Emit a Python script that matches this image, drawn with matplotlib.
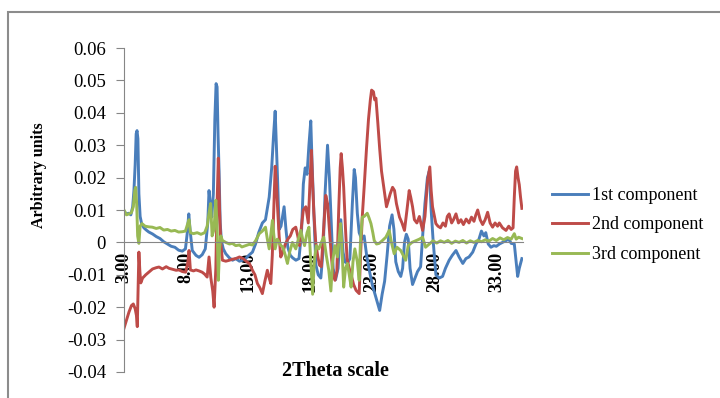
import numpy as np, matplotlib
matplotlib.use('Agg')
import matplotlib.pyplot as plt
from matplotlib.patches import Rectangle

plt.rcParams['font.family'] = ['Liberation Serif', 'DejaVu Serif']

# loadings of the three components vs 2theta
x1 = [3.0, 3.2, 3.4, 3.55, 3.7, 3.8, 3.9, 3.98, 4.05, 4.12,
      4.2, 4.3, 4.42, 4.6, 4.8, 5.0, 5.3, 5.6, 5.9, 6.2,
      6.5, 6.8, 7.1, 7.4, 7.7, 7.95, 8.1, 8.22, 8.32, 8.5,
      8.8, 9.05, 9.3, 9.55, 9.75, 9.85, 9.95, 10.07, 10.2, 10.32,
      10.42, 10.5, 10.58, 10.66, 10.75, 10.85, 11.0, 11.2, 11.5, 11.75,
      12.0, 12.3, 12.55, 12.8, 13.05, 13.35, 13.6, 13.85, 14.15, 14.4,
      14.7, 14.9, 15.05, 15.18, 15.28, 15.37, 15.5, 15.65, 15.9, 16.05,
      16.2, 16.4, 16.6, 16.85, 17.1, 17.3, 17.45, 17.6, 17.75, 17.9,
      18.05, 18.15, 18.3, 18.46, 18.65, 18.86, 19.05, 19.2, 19.4, 19.55,
      19.7, 19.85, 20.05, 20.25, 20.47, 20.65, 20.8, 21.0, 21.2, 21.4,
      21.55, 21.65, 21.8, 21.95, 22.15, 22.35, 22.55, 22.76, 23.0, 23.3,
      23.6, 23.8, 24.0, 24.2, 24.4, 24.6, 24.75, 24.9, 25.1, 25.3,
      25.45, 25.6, 25.75, 25.9, 26.05, 26.25, 26.45, 26.65, 26.9, 27.1,
      27.25, 27.45, 27.6, 27.75, 27.9, 28.13, 28.4, 28.67, 28.9, 29.2,
      29.45, 29.75, 30.0, 30.3, 30.55, 30.8, 31.1, 31.36, 31.6, 31.8,
      32.0, 32.15, 32.35, 32.57, 32.8, 33.0, 33.25, 33.5, 33.8, 34.0,
      34.2, 34.45, 34.6, 34.72, 34.85, 35.06]
y1 = [0.0095, 0.0088, 0.0090, 0.0085, 0.0110, 0.0160, 0.0240, 0.0335, 0.0345, 0.0320,
      0.0150, 0.0080, 0.0058, 0.0045, 0.0038, 0.0032, 0.0026, 0.0018, 0.0012, 0.0002,
      -0.0005, -0.0012, -0.0015, -0.0024, -0.0027, -0.0020, 0.0030, 0.0088, 0.0040, -0.0025,
      -0.0040, -0.0046, -0.0038, -0.0020, 0.0060, 0.0160, 0.0120, 0.0078, 0.0150, 0.0380,
      0.0490, 0.0480, 0.0330, 0.0220, 0.0060, 0.0005, -0.0020, -0.0035, -0.0048, -0.0055,
      -0.0050, -0.0058, -0.0055, -0.0050, -0.0040, -0.0030, -0.0005, 0.0030, 0.0060, 0.0070,
      0.0140, 0.0230, 0.0330, 0.0405, 0.0300, 0.0200, 0.0040, 0.0050, 0.0110, 0.0040,
      -0.0015, -0.0040, -0.0048, -0.0055, -0.0050, 0.0030, 0.0180, 0.0230, 0.0210, 0.0300,
      0.0375, 0.0250, 0.0090, -0.0070, -0.0100, -0.0110, -0.0020, 0.0150, 0.0300, 0.0200,
      0.0060, -0.0080, -0.0115, -0.0080, 0.0070, -0.0030, -0.0060, -0.0065, -0.0050, 0.0120,
      0.0225, 0.0200, 0.0090, 0.0030, 0.0010, 0.0020, -0.0040, -0.0085, -0.0130, -0.0170,
      -0.0210, -0.0160, -0.0120, -0.0040, 0.0050, 0.0085, 0.0040, -0.0060, -0.0090, -0.0105,
      -0.0080, 0.0000, 0.0025, 0.0010, -0.0080, -0.0130, -0.0110, -0.0090, -0.0075, 0.0040,
      0.0120, 0.0200, 0.0220, 0.0100, 0.0010, -0.0100, -0.0110, -0.0105, -0.0080, -0.0055,
      -0.0040, -0.0025, -0.0045, -0.0065, -0.0050, -0.0045, -0.0030, -0.0005, 0.0010, 0.0035,
      0.0020, 0.0030, -0.0005, -0.0015, -0.0010, -0.0012, -0.0005, 0.0000, 0.0006, 0.0010,
      -0.0003, -0.0005, -0.0060, -0.0105, -0.0080, -0.0050]

x2 = [3.0, 3.2, 3.4, 3.6, 3.75, 3.9, 4.0, 4.07, 4.15, 4.2,
      4.28, 4.35, 4.5, 4.75, 5.0, 5.3, 5.6, 5.82, 6.1, 6.4,
      6.63, 6.9, 7.2, 7.43, 7.7, 7.97, 8.15, 8.24, 8.35, 8.6,
      8.8, 9.05, 9.3, 9.5, 9.7, 9.85, 10.0, 10.15, 10.26, 10.4,
      10.5, 10.6, 10.7, 10.8, 10.93, 11.2, 11.5, 11.73, 12.0, 12.3,
      12.6, 12.9, 13.1, 13.35, 13.55, 13.75, 13.95, 14.15, 14.35, 14.55,
      14.7, 14.83, 14.95, 15.05, 15.18, 15.28, 15.37, 15.5, 15.63, 15.8,
      16.0, 16.2, 16.4, 16.6, 16.84, 17.0, 17.15, 17.3, 17.45, 17.65,
      17.85, 18.0, 18.1, 18.2, 18.3, 18.45, 18.6, 18.75, 18.9, 19.05,
      19.26, 19.4, 19.55, 19.7, 19.85, 20.0, 20.15, 20.3, 20.42, 20.5,
      20.6, 20.7, 20.85, 20.97, 21.15, 21.3, 21.5, 21.7, 21.95, 22.05,
      22.2, 22.35, 22.54, 22.7, 22.85, 22.95, 23.1, 23.2, 23.3, 23.45,
      23.6, 23.75, 23.97, 24.15, 24.3, 24.45, 24.64, 24.8, 24.95, 25.2,
      25.4, 25.6, 25.8, 25.98, 26.1, 26.25, 26.4, 26.6, 26.8, 27.06,
      27.25, 27.46, 27.64, 27.75, 27.86, 28.13, 28.3, 28.5, 28.7, 28.9,
      29.05, 29.2, 29.4, 29.55, 29.75, 29.95, 30.15, 30.35, 30.57, 30.8,
      31.0, 31.2, 31.35, 31.5, 31.7, 31.9, 32.1, 32.3, 32.5, 32.7,
      32.9, 33.1, 33.24, 33.5, 33.78, 34.0, 34.2, 34.35, 34.45, 34.55,
      34.64, 34.75, 34.85, 34.95, 35.06]
y2 = [-0.0265, -0.0240, -0.0215, -0.0195, -0.0190, -0.0205, -0.0225, -0.0260, -0.0120, -0.0030,
      -0.0090, -0.0125, -0.0110, -0.0100, -0.0092, -0.0082, -0.0078, -0.0076, -0.0082, -0.0075,
      -0.0080, -0.0083, -0.0086, -0.0085, -0.0090, -0.0092, -0.0060, -0.0025, -0.0085, -0.0088,
      -0.0085, -0.0088, -0.0092, -0.0098, -0.0107, -0.0045, -0.0110, -0.0150, -0.0200, -0.0080,
      0.0120, 0.0260, 0.0100, -0.0003, -0.0055, -0.0058, -0.0055, -0.0052, -0.0050, -0.0045,
      -0.0050, -0.0060, -0.0065, -0.0086, -0.0100, -0.0127, -0.0140, -0.0158, -0.0120, -0.0086,
      -0.0110, -0.0127, -0.0040, 0.0080, 0.0235, 0.0180, 0.0110, 0.0020, -0.0045, -0.0030,
      -0.0005, 0.0010, 0.0020, 0.0040, 0.0047, 0.0020, -0.0010, 0.0050, 0.0100, 0.0110,
      0.0060, 0.0200, 0.0284, 0.0180, 0.0090, 0.0000, -0.0040, -0.0070, -0.0075, 0.0020,
      0.0145, 0.0120, 0.0040, -0.0040, -0.0100, -0.0117, -0.0090, 0.0100, 0.0230, 0.0274,
      0.0230, 0.0170, 0.0040, -0.0050, -0.0080, -0.0100, -0.0130, -0.0148, -0.0158, -0.0050,
      0.0080, 0.0170, 0.0290, 0.0380, 0.0440, 0.0470, 0.0465, 0.0440, 0.0445, 0.0370,
      0.0290, 0.0220, 0.0160, 0.0110, 0.0130, 0.0150, 0.0170, 0.0160, 0.0120, 0.0078,
      0.0060, 0.0037, 0.0100, 0.0160, 0.0140, 0.0110, 0.0070, 0.0060, 0.0080, 0.0037,
      0.0080, 0.0190, 0.0233, 0.0160, 0.0110, 0.0058, 0.0050, 0.0045, 0.0060, 0.0050,
      0.0080, 0.0088, 0.0060, 0.0070, 0.0088, 0.0060, 0.0070, 0.0055, 0.0072, 0.0060,
      0.0078, 0.0065, 0.0085, 0.0100, 0.0070, 0.0055, 0.0070, 0.0093, 0.0060, 0.0047,
      0.0060, 0.0050, 0.0060, 0.0045, 0.0037, 0.0050, 0.0040, 0.0045, 0.0140, 0.0220,
      0.0233, 0.0200, 0.0178, 0.0140, 0.0105]

x3 = [3.0, 3.2, 3.4, 3.6, 3.75, 3.87, 3.94, 4.02, 4.1, 4.2,
      4.3, 4.45, 4.7, 5.0, 5.28, 5.6, 5.9, 6.2, 6.5, 6.8,
      7.1, 7.4, 7.7, 7.95, 8.15, 8.24, 8.35, 8.6, 8.9, 9.2,
      9.5, 9.7, 9.85, 9.98, 10.1, 10.25, 10.4, 10.5, 10.6, 10.7,
      10.8, 10.93, 11.2, 11.5, 11.73, 12.0, 12.3, 12.5, 12.8, 13.1,
      13.35, 13.6, 13.9, 14.15, 14.4, 14.55, 14.7, 14.85, 14.96, 15.08,
      15.18, 15.35, 15.5, 15.65, 15.8, 16.0, 16.17, 16.35, 16.57, 16.7,
      16.84, 17.05, 17.25, 17.4, 17.55, 17.75, 17.9, 18.05, 18.2, 18.35,
      18.5, 18.7, 18.9, 19.1, 19.3, 19.5, 19.67, 19.8, 20.0, 20.2,
      20.35, 20.46, 20.6, 20.7, 20.85, 21.0, 21.15, 21.3, 21.45, 21.6,
      21.8, 21.95, 22.05, 22.2, 22.35, 22.6, 22.75, 22.9, 23.05, 23.16,
      23.35, 23.56, 23.8, 24.1, 24.37, 24.55, 24.77, 25.0, 25.3, 25.5,
      25.7, 25.9, 26.2, 26.5, 26.8, 27.06, 27.3, 27.6, 27.9, 28.2,
      28.5, 28.8, 29.1, 29.4, 29.7, 30.0, 30.3, 30.6, 30.9, 31.2,
      31.5, 31.8, 32.1, 32.4, 32.7, 33.0, 33.3, 33.6, 33.9, 34.2,
      34.45, 34.6, 34.8, 35.06]
y3 = [0.0100, 0.0085, 0.0088, 0.0092, 0.0110, 0.0160, 0.0170, 0.0120, 0.0020, -0.0003,
      0.0050, 0.0058, 0.0050, 0.0048, 0.0047, 0.0043, 0.0046, 0.0038, 0.0040, 0.0035,
      0.0037, 0.0032, 0.0033, 0.0035, 0.0060, 0.0070, 0.0030, 0.0027, 0.0030, 0.0025,
      0.0030, 0.0050, 0.0090, 0.0120, 0.0020, 0.0040, 0.0130, 0.0050, -0.0117, -0.0020,
      0.0020, 0.0006, 0.0000, -0.0005, -0.0003, -0.0010, -0.0008, -0.0014, -0.0010, -0.0006,
      -0.0008, 0.0005, 0.0027, 0.0035, 0.0047, 0.0010, -0.0020, 0.0030, 0.0068, 0.0020,
      -0.0020, 0.0010, 0.0000, -0.0010, -0.0014, -0.0040, -0.0065, -0.0030, 0.0000, -0.0010,
      -0.0020, 0.0010, 0.0037, 0.0010, -0.0010, 0.0030, 0.0047, -0.0060, -0.0160, -0.0050,
      -0.0010, -0.0020, 0.0000, 0.0016, -0.0040, -0.0086, -0.0150, -0.0060, -0.0010, -0.0045,
      0.0020, 0.0058, -0.0050, -0.0138, -0.0080, -0.0065, -0.0100, -0.0138, -0.0060, -0.0020,
      -0.0060, -0.0117, 0.0000, 0.0078, 0.0080, 0.0090, 0.0075, 0.0058, 0.0030, 0.0006,
      -0.0005, -0.0003, 0.0005, 0.0016, 0.0037, 0.0000, -0.0035, -0.0015, -0.0025, -0.0040,
      -0.0055, -0.0010, 0.0000, 0.0005, 0.0010, 0.0016, -0.0015, -0.0005, 0.0005, -0.0002,
      0.0005, 0.0000, 0.0006, -0.0003, 0.0004, 0.0000, 0.0006, -0.0002, 0.0005, 0.0000,
      0.0006, 0.0002, 0.0008, 0.0004, 0.0012, 0.0006, 0.0014, 0.0008, 0.0015, 0.0010,
      0.0027, 0.0010, 0.0016, 0.0012]

series = ['1st component', '2nd component', '3rd component']
colors = ['#4a7ebb', '#be4b48', '#98b954']
xticks = [3, 8, 13, 18, 23, 28, 33]
xticklabels = ['3.00', '8.00', '13.00', '18.00', '23.00', '28.00', '33.00']
yticks = [0.06, 0.05, 0.04, 0.03, 0.02, 0.01, 0, -0.01, -0.02, -0.03, -0.04]
yticklabels = ['0.06', '0.05', '0.04', '0.03', '0.02', '0.01', '0', '-0.01', '-0.02', '-0.03', '-0.04']

W, H = 720, 398
fig = plt.figure(figsize=(W/100, H/100), dpi=100)
fig.patches.append(Rectangle((8/W, -0.2), 1.2, 1.2 - 12/H, transform=fig.transFigure,
                             fill=False, ec='#8c8c8c', lw=1.5))
ax = fig.add_axes([124/W, 1 - 372/H, (523 - 124)/W, (372 - 48)/H])

for xs, ys, c, lab in zip([x1, x2, x3], [y1, y2, y3], colors, series):
    ax.plot(xs, ys, color=c, lw=2.1, label=lab, solid_joinstyle='round')

ax.set_xlim(3, 35.15); ax.set_ylim(-0.04, 0.06)
for s in ['top', 'right']: ax.spines[s].set_visible(False)
ax.spines['bottom'].set_position(('data', 0))
ax.spines['bottom'].set_color('#868686'); ax.spines['left'].set_color('#868686')
ax.set_yticks(yticks); ax.set_yticklabels(yticklabels, fontsize=13.5)
ax.set_xticks(xticks); ax.set_xticklabels(xticklabels, rotation=90, fontsize=13, fontweight='bold')
ax.tick_params(axis='y', length=6, color='#868686', pad=7)
ax.tick_params(axis='x', length=0, pad=7)

fig.text(39/W, 1 - 175/H, 'Arbitrary units', rotation=90, ha='center', va='center',
         fontsize=11.5, fontweight='bold')
fig.text(335/W, 1 - 371/H, '2Theta scale', ha='center', va='center', fontsize=14.5, fontweight='bold')

fig.legend(loc='center left', bbox_to_anchor=(552/W, 1 - 225/H), frameon=False, fontsize=13,
           handlelength=2.0, handletextpad=0.2, labelspacing=0.7, borderpad=0, borderaxespad=0)

fig.savefig('out.png', dpi=100)
